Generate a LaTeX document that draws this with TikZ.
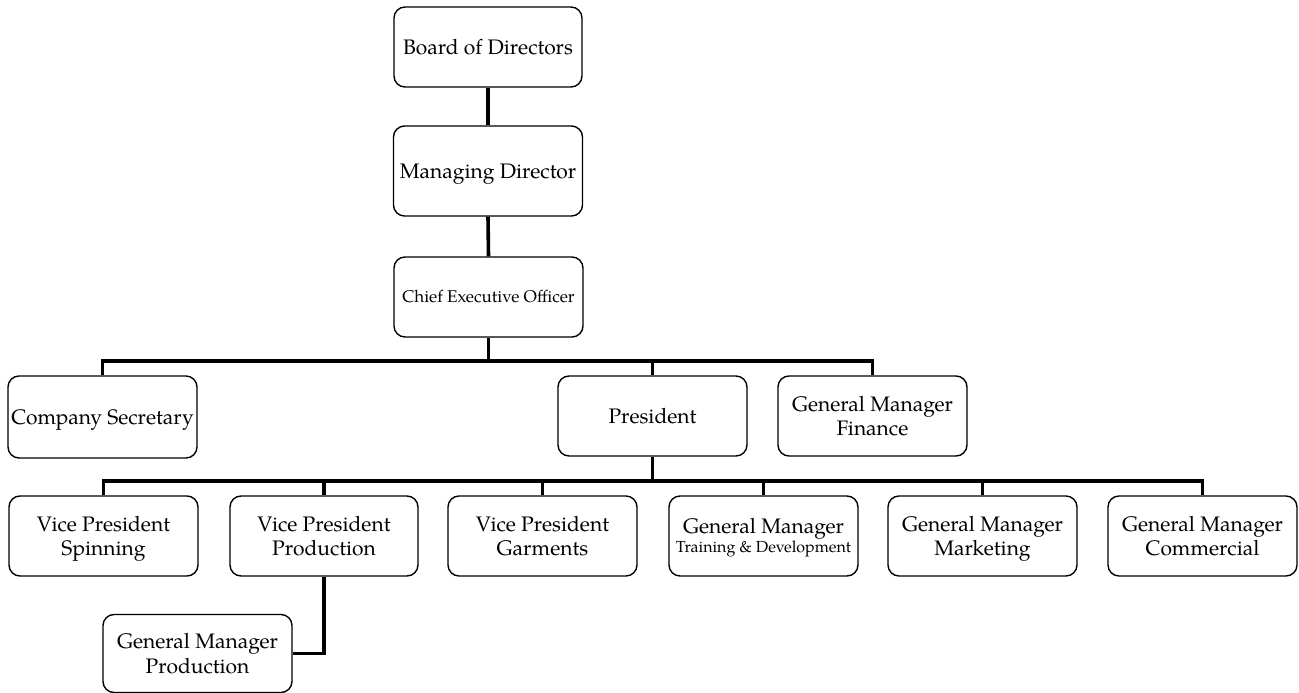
\documentclass[tikz,border=0pt]{standalone}
\usepackage{fontspec}
\setmainfont{TeX Gyre Pagella}
\newcommand{\capln}[1]{\vphantom{X}\smash{#1}}
\newcommand{\lineonly}[1]{\smash{#1}}
\begin{document}
\begin{tikzpicture}[x=1pt,y=-1pt,
  box/.style={draw=black,line width=1.4pt,rounded corners=11pt,fill=white,
    inner sep=0pt,align=center,minimum width=189pt,minimum height=80pt,
    font=\fontsize{21}{24.5}\selectfont},
  conn/.style={draw=black,line width=3.6pt}]
\useasboundingbox (0,0) rectangle (1299,693);
\coordinate (bus1) at (0,361);
\coordinate (bus2) at (0,481);
\node[box,minimum width=188pt] (bod) at (488,47) {\capln{Board of Directors}};
\node[box,minimum height=90pt] (md) at (488,171) {\capln{Managing Director}};
\node[box,font=\fontsize{17}{20}\selectfont] (ceo) at (488.5,297) {\capln{Chief Executive Officer}};
\node[box,minimum height=82pt] (cs) at (102.5,417) {\capln{Company Secretary}};
\node[box] (pres) at (652.5,416) {\capln{President}};
\node[box] (gmf) at (872.5,416) {\capln{General Manager}\\\lineonly{Finance}};
\node[box] (vps) at (103.5,536) {\capln{Vice President}\\\lineonly{Spinning}};
\node[box,minimum width=188pt] (vpp) at (324,536) {\capln{Vice President}\\\lineonly{Production}};
\node[box] (vpg) at (542.5,536) {\capln{Vice President}\\\lineonly{Garments}};
\node[box] (gmtd) at (763.5,536) {\capln{General Manager}\\[-5.5pt]\lineonly{\fontsize{16}{19}\selectfont Training \& Development}};
\node[box] (gmm) at (982.5,536) {\capln{General Manager}\\\lineonly{Marketing}};
\node[box] (gmc) at (1202.5,536) {\capln{General Manager}\\\lineonly{Commercial}};
\node[box,minimum height=78pt] (gmp) at (197.5,653.5) {\capln{General Manager}\\\lineonly{Production}};
\draw[conn] (bod.south) -- (md.north);
\draw[conn] (md.south) -- (ceo.north);
\draw[conn] (ceo.south) -- (ceo.south |- bus1);
\draw[conn] (cs.north) |- (gmf.north |- bus1) -- (gmf.north);
\draw[conn] (pres.north) -- (pres.north |- bus1);
\draw[conn] (pres.south) -- (pres.south |- bus2);
\draw[conn] (vps.north) |- (gmc.north |- bus2) -- (gmc.north);
\draw[conn] (vpp.north) -- (vpp.north |- bus2);
\draw[conn] (vpg.north) -- (vpg.north |- bus2);
\draw[conn] (gmtd.north) -- (gmtd.north |- bus2);
\draw[conn] (gmm.north) -- (gmm.north |- bus2);
\draw[conn] (vpp.south) |- (gmp.east);
\end{tikzpicture}
\end{document}
